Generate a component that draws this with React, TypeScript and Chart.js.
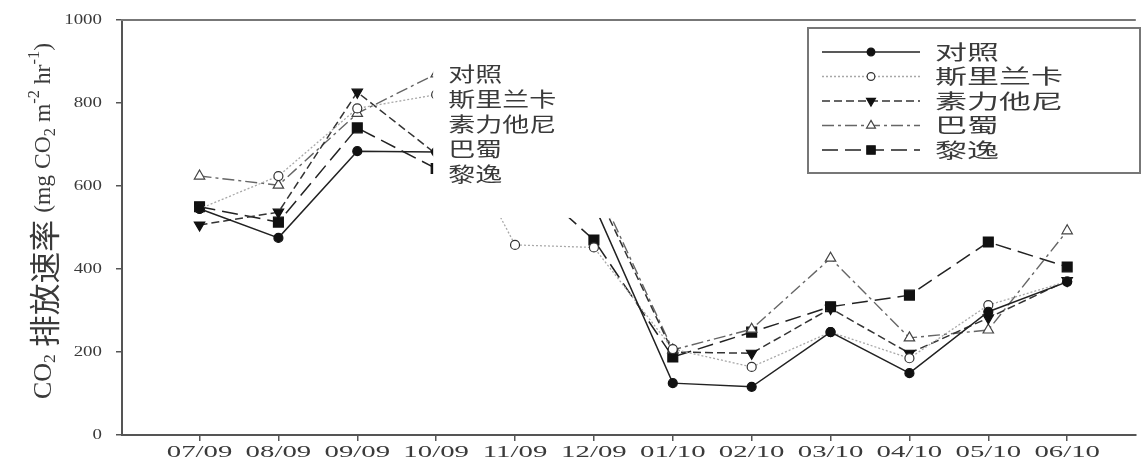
import React, { useEffect, useRef } from 'react';
import { Chart, registerables } from 'chart.js';

Chart.register(...registerables);

// ---- data ----
const dates = ['07/09', '08/09', '09/09', '10/09', '11/09', '12/09', '01/10', '02/10', '03/10', '04/10', '05/10', '06/10'];
const yTickValues = [0, 200, 400, 600, 800, 1000];
const seriesNames = ['对照', '斯里兰卡', '素力他尼', '巴蜀', '黎逸'];
const duizhao = [545, 475, 684, 682, null, 555, 125, 116, 248, 149, 297, 369];
const sililanka = [545, 624, 787, 820, 458, 452, 207, 164, 248, 185, 313, 370];
const sulitani = [506, 537, 826, 677, null, 600, 200, 197, 305, 197, 282, 372];
const bashu = [624, 602, 775, 870, null, 615, 205, 255, 426, 234, 253, 492];
const liyi = [550, 513, 740, 642, 640, 470, 188, 248, 309, 337, 465, 405];
const inlineLabels = ['对照', '斯里兰卡', '素力他尼', '巴蜀', '黎逸'];

const seriesData = [duizhao, sililanka, sulitani, bashu, liyi];

const SERIF = "'Liberation Serif', 'DejaVu Serif', serif";
const CJK = "'Noto Sans CJK SC', 'Noto Sans CJK JP', sans-serif";
const TEXT = '#3a3a3a';
const AXIS = '#555';

type St = { color: string; dash: number[]; width: number; point: string; rot: number; fill: string; stroke: string; radius: number };
const styles: St[] = [
  { color: '#222', dash: [], width: 1.5, point: 'circle', rot: 0, fill: '#111', stroke: '#111', radius: 4.5 },
  { color: '#a8a8a8', dash: [2, 2], width: 1.3, point: 'circle', rot: 0, fill: '#fff', stroke: '#333', radius: 4.5 },
  { color: '#333', dash: [8, 4], width: 1.5, point: 'triangle', rot: 180, fill: '#111', stroke: '#111', radius: 6 },
  { color: '#666', dash: [12, 4, 3, 4], width: 1.4, point: 'triangle', rot: 0, fill: '#fff', stroke: '#444', radius: 6 },
  { color: '#222', dash: [16, 7], width: 1.5, point: 'rect', rot: 0, fill: '#111', stroke: '#111', radius: 7 },
];

function stretchText(ctx: CanvasRenderingContext2D, text: string, x: number, y: number, font: string, sx: number, align: string, color: string) {
  ctx.save();
  ctx.font = font;
  ctx.fillStyle = color;
  ctx.textBaseline = 'middle';
  ctx.textAlign = 'left';
  const w = ctx.measureText(text).width * sx;
  let x0 = x;
  if (align === 'center') x0 = x - w / 2;
  else if (align === 'right') x0 = x - w;
  ctx.translate(x0, y);
  ctx.scale(sx, 1);
  ctx.fillText(text, 0, 0);
  ctx.restore();
}

function drawMarker(ctx: CanvasRenderingContext2D, s: St, x: number, y: number) {
  ctx.save();
  ctx.beginPath();
  const r = s.radius;
  if (s.point === 'circle') ctx.arc(x, y, r, 0, Math.PI * 2);
  else if (s.point === 'rect') {
    const h = Math.SQRT1_2 * r;
    ctx.rect(x - h, y - h, 2 * h, 2 * h);
  } else {
    let rad = (s.rot * Math.PI) / 180;
    ctx.moveTo(x + Math.sin(rad) * r, y - Math.cos(rad) * r);
    rad += (2 * Math.PI) / 3;
    ctx.lineTo(x + Math.sin(rad) * r, y - Math.cos(rad) * r);
    rad += (2 * Math.PI) / 3;
    ctx.lineTo(x + Math.sin(rad) * r, y - Math.cos(rad) * r);
    ctx.closePath();
  }
  ctx.fillStyle = s.fill;
  ctx.fill();
  ctx.setLineDash([]);
  ctx.lineWidth = 1.2;
  ctx.strokeStyle = s.stroke;
  ctx.stroke();
  ctx.restore();
}

const decorPlugin = {
  id: 'decor',
  afterDatasetsDraw(chart: any) {
    const ctx: CanvasRenderingContext2D = chart.ctx;
    const xs = chart.scales.x;
    const ys = chart.scales.y;
    const area = chart.chartArea;
    // white label box (covers region behind the inline labels)
    const bx0 = xs.getPixelForValue(3) - 3;
    const bx1 = xs.getPixelForValue(5) + 26;
    const by1 = ys.getPixelForValue(523);
    ctx.save();
    ctx.fillStyle = '#fff';
    ctx.fillRect(bx0, area.top + 2, bx1 - bx0, by1 - area.top - 2);
    ctx.restore();
    // inline labels
    const lx = xs.getPixelForValue(3) + 12;
    inlineLabels.forEach((t, i) => {
      stretchText(ctx, t, lx, 74 + i * 25, `20px ${CJK}`, 1.35, 'left', TEXT);
    });
  },
  afterDraw(chart: any) {
    const ctx: CanvasRenderingContext2D = chart.ctx;
    const xs = chart.scales.x;
    const ys = chart.scales.y;
    const area = chart.chartArea;
    // top frame line
    ctx.save();
    ctx.strokeStyle = '#777';
    ctx.lineWidth = 2;
    ctx.beginPath();
    ctx.moveTo(area.left - 1, area.top);
    ctx.lineTo(area.right, area.top);
    ctx.stroke();
    ctx.restore();
    // y tick labels
    yTickValues.forEach((v) => {
      stretchText(ctx, String(v), area.left - 20, ys.getPixelForValue(v), `14px ${SERIF}`, 1.35, 'right', TEXT);
    });
    // x tick labels
    dates.forEach((d, i) => {
      stretchText(ctx, d, xs.getPixelForValue(i), area.bottom + 18, `16px ${SERIF}`, 1.8, 'center', TEXT);
    });
    // y title
    const segs = [
      { t: 'CO', f: `22px ${SERIF}`, dy: 0 },
      { t: '2', f: `15px ${SERIF}`, dy: 6 },
      { t: ' 排放速率 ', f: `27px ${CJK}`, dy: 0 },
      { t: '(mg CO', f: `20px ${SERIF}`, dy: 0 },
      { t: '2', f: `14px ${SERIF}`, dy: 6 },
      { t: ' m', f: `20px ${SERIF}`, dy: 0 },
      { t: '-2', f: `14px ${SERIF}`, dy: -8 },
      { t: ' hr', f: `20px ${SERIF}`, dy: 0 },
      { t: '-1', f: `14px ${SERIF}`, dy: -8 },
      { t: ')', f: `20px ${SERIF}`, dy: 0 },
    ];
    ctx.save();
    let total = 0;
    const widths = segs.map((s) => {
      ctx.font = s.f;
      const w = ctx.measureText(s.t).width;
      total += w;
      return w;
    });
    const along = 356 / total;
    ctx.translate(44, 221);
    ctx.rotate(-Math.PI / 2);
    ctx.scale(along, 1.15);
    ctx.fillStyle = TEXT;
    ctx.textBaseline = 'middle';
    ctx.textAlign = 'left';
    let cx = -total / 2;
    segs.forEach((s, i) => {
      ctx.font = s.f;
      ctx.fillText(s.t, cx, s.dy);
      cx += widths[i];
    });
    ctx.restore();
    // legend box
    const L = { x: 808, y: 28, w: 332, h: 145 };
    ctx.save();
    ctx.strokeStyle = '#777';
    ctx.lineWidth = 2;
    ctx.strokeRect(L.x, L.y, L.w, L.h);
    ctx.restore();
    seriesNames.forEach((n, i) => {
      const s = styles[i];
      const yy = 52 + i * 24.5;
      ctx.save();
      ctx.strokeStyle = s.color;
      ctx.lineWidth = s.width;
      ctx.setLineDash(s.dash);
      ctx.beginPath();
      ctx.moveTo(822, yy);
      ctx.lineTo(920, yy);
      ctx.stroke();
      ctx.restore();
      drawMarker(ctx, { ...s, radius: s.radius * 0.85 }, 871, yy);
      stretchText(ctx, n, 935, yy, `20px ${CJK}`, 1.6, 'left', TEXT);
    });
  },
};

export default function App() {
  const ref = useRef<HTMLCanvasElement | null>(null);
  useEffect(() => {
    if (!ref.current) return;
    const chart = new Chart(ref.current, {
      type: 'line',
      data: {
        datasets: seriesNames.map((name, i) => ({
          label: name,
          data: seriesData[i].map((v, k) => ({ x: k, y: v })),
          borderColor: styles[i].color,
          borderWidth: styles[i].width,
          borderDash: styles[i].dash,
          pointStyle: styles[i].point as any,
          pointRotation: styles[i].rot,
          pointRadius: styles[i].radius,
          pointBackgroundColor: styles[i].fill,
          pointBorderColor: styles[i].stroke,
          pointBorderWidth: 1.2,
          spanGaps: false,
          tension: 0,
          fill: false,
        })),
      },
      options: {
        animation: false,
        responsive: true,
        maintainAspectRatio: false,
        layout: { padding: { left: 116, top: 20, right: 2, bottom: 29 } },
        plugins: { legend: { display: false }, tooltip: { enabled: false } },
        scales: {
          x: {
            type: 'linear',
            min: -0.983,
            max: 11.87,
            afterBuildTicks: (s: any) => {
              s.ticks = dates.map((_, i) => ({ value: i }));
            },
            ticks: { display: false },
            grid: { drawOnChartArea: false, drawTicks: true, tickLength: 6, color: AXIS, lineWidth: 1.5 },
            border: { display: true, color: AXIS, width: 2 },
          },
          y: {
            type: 'linear',
            min: 0,
            max: 1000,
            afterBuildTicks: (s: any) => {
              s.ticks = yTickValues.map((v) => ({ value: v }));
            },
            ticks: { display: false },
            grid: { drawOnChartArea: false, drawTicks: true, tickLength: 6, color: AXIS, lineWidth: 1.5 },
            border: { display: true, color: AXIS, width: 2 },
          },
        },
      },
      plugins: [decorPlugin],
    });
    return () => chart.destroy();
  }, []);
  return (
    <div style={{ position: 'absolute', left: 0, top: 0, width: 1144, height: 470, background: '#fff' }}>
      <canvas ref={ref} />
    </div>
  );
}
